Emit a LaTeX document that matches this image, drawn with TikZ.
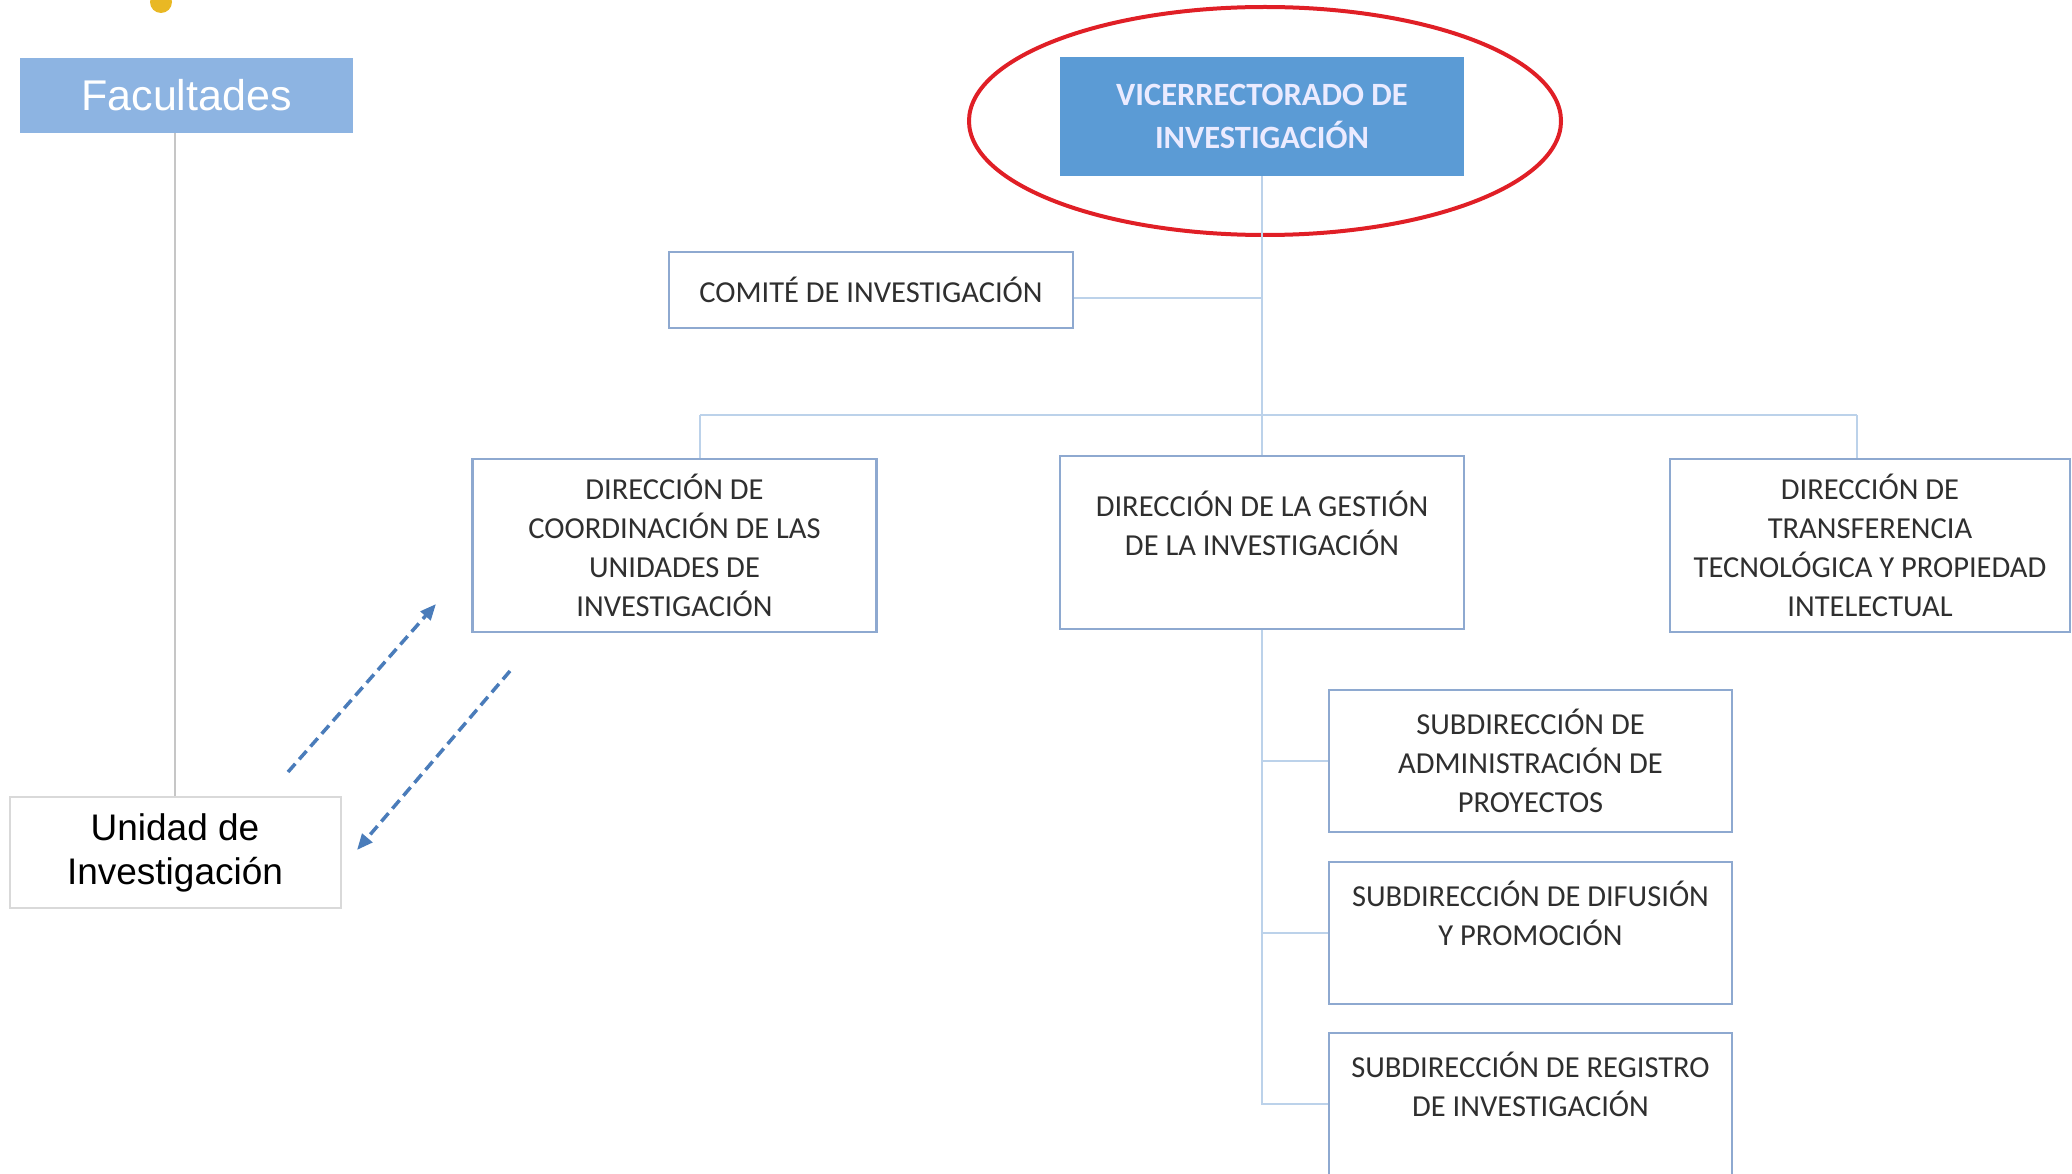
\documentclass[tikz,border=0pt]{standalone}
\usepackage{fontspec}
\setmainfont{Carlito}
\newfontfamily\arialfont{Liberation Sans}
\usetikzlibrary{shapes.geometric,arrows.meta}
\definecolor{facblue}{HTML}{8DB4E2}
\definecolor{vicblue}{HTML}{5B9BD5}
\definecolor{boxline}{HTML}{8EA9D0}
\definecolor{linkline}{HTML}{BCD2EA}
\definecolor{capstext}{HTML}{2F2F2F}
\definecolor{dashblue}{HTML}{4A7CBA}
\definecolor{markred}{HTML}{E01F26}
\definecolor{dotgold}{HTML}{E9B824}

\begin{document}
\begin{tikzpicture}[x=1pt, y=-1pt,
    unitbox/.style={draw=boxline, line width=2.5pt, fill=white, align=center, text=capstext,
        font=\fontsize{30.5}{39}\selectfont, inner sep=0pt},
    dirbox/.style={unitbox, minimum width=404pt, minimum height=173pt},
    subbox/.style={unitbox, minimum width=403pt, minimum height=142pt},
    link/.style={draw=linkline, line width=2pt},
    flow/.style={draw=dashblue, line width=3.5pt, dash pattern=on 11pt off 6pt,
        -{Triangle[length=16pt, width=13pt]}}]
    \useasboundingbox (0,0) rectangle (2072,1174);
    \clip (0,0) rectangle (2072,1174);
    \fill[dotgold] (161,2) circle (11);

    % left side
    \node[fill=facblue, minimum width=333pt, minimum height=75pt, text=white,
        font=\arialfont\fontsize{43}{50}\selectfont] (fac) at (186.5,95.5) {Facultades};
    \node[draw=gray!30, line width=2pt, minimum width=331pt, minimum height=111pt, align=center,
        font=\arialfont\fontsize{37}{44}\selectfont] (uni) at (175,852.5) {Unidad de\\Investigación};
    \draw[draw=gray!45, line width=2pt] (uni.north) -- (fac.south -| uni.north);

    % top
    \node[fill=vicblue, minimum width=404pt, minimum height=119pt, align=center, text=blue!8,
        font=\bfseries\fontsize{32.5}{43}\selectfont] (vic) at (1262,116.5) {VICERRECTORADO DE\\INVESTIGACIÓN};
    \node[draw=markred, line width=4pt, ellipse, minimum width=592pt, minimum height=228pt] (mark) at (1265,121) {};
    \node[unitbox, minimum width=404pt, minimum height=76pt] (com) at (871,290) {COMITÉ DE INVESTIGACIÓN};

    % direcciones
    \node[dirbox] (coo) at (674.5,545.5) {DIRECCIÓN DE\\COORDINACIÓN DE LAS\\UNIDADES DE\\INVESTIGACIÓN};
    \node[dirbox] (ges) at (1262,542.5) {DIRECCIÓN DE LA GESTIÓN\\DE LA INVESTIGACIÓN\\~};
    \node[dirbox, minimum width=400pt] (tra) at (1870,545.5) {DIRECCIÓN DE\\TRANSFERENCIA\\TECNOLÓGICA Y PROPIEDAD\\INTELECTUAL};

    % subdirecciones
    \node[subbox] (sb1) at (1530.5,761) {SUBDIRECCIÓN DE\\ADMINISTRACIÓN DE\\PROYECTOS};
    \node[subbox] (sb2) at (1530.5,933) {SUBDIRECCIÓN DE DIFUSIÓN\\Y PROMOCIÓN\\~};
    \node[subbox] (sb3) at (1530.5,1104) {SUBDIRECCIÓN DE REGISTRO\\DE INVESTIGACIÓN\\~};

    % connectors
    \coordinate (bl) at (700,415);
    \coordinate (br) at (1857,415);
    \coordinate (cj) at ([yshift=-8pt]com.east);
    \draw[link] (vic.south) -- (ges.north);
    \draw[link] (cj) -- (cj -| vic.south);
    \draw[link] (bl) -- (br);
    \draw[link] (bl) -- (bl |- coo.north);
    \draw[link] (br) -- (br |- tra.north);
    \draw[link] (ges.south) |- (sb3.west);
    \draw[link] (ges.south |- sb1.west) -- (sb1.west);
    \draw[link] (ges.south |- sb2.west) -- (sb2.west);

    % dashed arrows
    \coordinate (up0) at (288,772);
    \coordinate (up1) at (436,604);
    \coordinate (dn0) at (510,671);
    \coordinate (dn1) at (357,850);
    \draw[flow] (up0) -- (up1);
    \draw[flow] (dn0) -- (dn1);
\end{tikzpicture}
\end{document}
